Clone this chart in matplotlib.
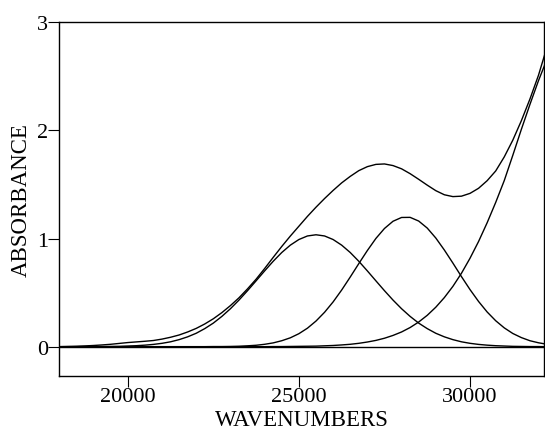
import matplotlib
matplotlib.use("Agg")
import matplotlib.pyplot as plt

# wavenumber grid (cm^-1)
wavenumbers = [18000, 18250, 18500, 18750, 19000, 19250, 19500, 19750,
               20000, 20250, 20500, 20750, 21000, 21250, 21500, 21750,
               22000, 22250, 22500, 22750, 23000, 23250, 23500, 23750,
               24000, 24250, 24500, 24750, 25000, 25250, 25500, 25750,
               26000, 26250, 26500, 26750, 27000, 27250, 27500, 27750,
               28000, 28250, 28500, 28750, 29000, 29250, 29500, 29750,
               30000, 30250, 30500, 30750, 31000, 31250, 31500, 31750,
               32000, 32200]

# measured spectrum (envelope)
spectrum = [0.000, 0.002, 0.004, 0.007, 0.011, 0.016, 0.022, 0.030,
            0.038, 0.044, 0.050, 0.057, 0.070, 0.087, 0.108, 0.136,
            0.169, 0.210, 0.258, 0.315, 0.380, 0.452, 0.535, 0.624,
            0.723, 0.826, 0.927, 1.023, 1.114, 1.205, 1.290, 1.370,
            1.445, 1.515, 1.575, 1.628, 1.665, 1.686, 1.690, 1.675,
            1.645, 1.600, 1.548, 1.494, 1.443, 1.405, 1.388, 1.392,
            1.418, 1.465, 1.535, 1.625, 1.755, 1.910, 2.090, 2.290,
            2.510, 2.720]

# band 1 (~25500)
band1 = [0.000, 0.000, 0.000, 0.001, 0.001, 0.001, 0.002, 0.003,
         0.006, 0.009, 0.014, 0.021, 0.031, 0.045, 0.065, 0.091,
         0.124, 0.167, 0.218, 0.280, 0.351, 0.431, 0.518, 0.609,
         0.701, 0.790, 0.871, 0.939, 0.991, 1.024, 1.035, 1.024,
         0.991, 0.939, 0.871, 0.790, 0.701, 0.609, 0.518, 0.431,
         0.351, 0.280, 0.218, 0.167, 0.124, 0.091, 0.065, 0.045,
         0.031, 0.021, 0.014, 0.009, 0.006, 0.003, 0.002, 0.001,
         0.001, 0.000]

# band 2 (~28100)
band2 = [0.000, 0.000, 0.000, 0.000, 0.000, 0.000, 0.000, 0.000,
         0.000, 0.000, 0.000, 0.000, 0.000, 0.000, 0.000, 0.000,
         0.000, 0.000, 0.001, 0.001, 0.002, 0.004, 0.008, 0.013,
         0.022, 0.035, 0.055, 0.082, 0.120, 0.171, 0.237, 0.318,
         0.414, 0.524, 0.644, 0.768, 0.889, 1.001, 1.093, 1.160,
         1.195, 1.196, 1.162, 1.097, 1.005, 0.894, 0.773, 0.648,
         0.528, 0.418, 0.321, 0.240, 0.174, 0.122, 0.084, 0.055,
         0.036, 0.025]

# band 3 (rising UV band)
band3 = [0.000, 0.000, 0.000, 0.000, 0.000, 0.000, 0.000, 0.000,
         0.000, 0.000, 0.000, 0.000, 0.000, 0.000, 0.000, 0.000,
         0.000, 0.000, 0.000, 0.000, 0.000, 0.000, 0.000, 0.000,
         0.000, 0.001, 0.001, 0.002, 0.003, 0.004, 0.005, 0.008,
         0.011, 0.016, 0.022, 0.031, 0.043, 0.058, 0.078, 0.104,
         0.136, 0.177, 0.228, 0.290, 0.365, 0.454, 0.558, 0.679,
         0.818, 0.973, 1.146, 1.334, 1.536, 1.770, 2.010, 2.240,
         2.460, 2.620]

x_ticks = [20000, 25000, 30000]
y_ticks = [0, 1, 2, 3]

plt.rcParams['font.family'] = ['Liberation Serif', 'DejaVu Serif']

fig = plt.figure(figsize=(5.45, 4.31), dpi=100)
ax = fig.add_axes([0.1088, 0.1246, 0.8899, 0.8213])

lw = 1.0
ax.axhline(0, color='black', lw=lw)
for series in (spectrum, band1, band2, band3):
    ax.plot(wavenumbers, series, color='black', lw=lw)

ax.set_xlim(18000, 32170)
ax.set_ylim(-0.274, 3)
ax.set_xticks(x_ticks)
ax.set_xticklabels([str(t) for t in x_ticks])
ax.set_yticks(y_ticks)
ax.set_yticklabels([str(t) for t in y_ticks])
ax.tick_params(axis='both', direction='out', length=8, width=0.8,
               labelsize=16, pad=0, colors='black')
for s in ax.spines.values():
    s.set_linewidth(1.0)
    s.set_color('black')

ax.set_xlabel('WAVENUMBERS', fontsize=16.5, labelpad=2)
ax.set_ylabel('ABSORBANCE', fontsize=16.5, labelpad=4)

fig.savefig('out.png', dpi=100)
